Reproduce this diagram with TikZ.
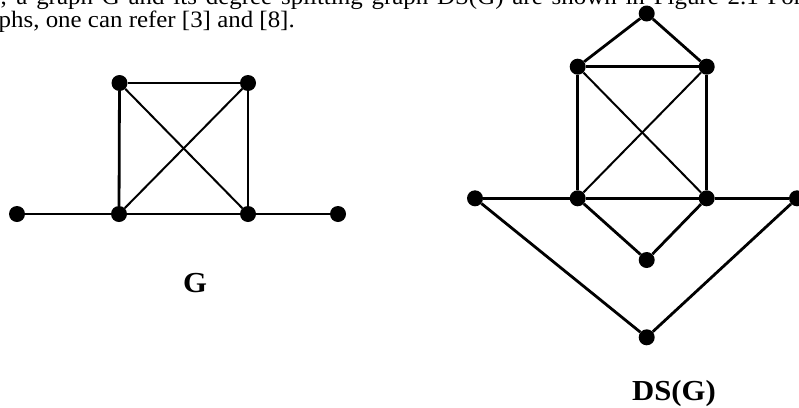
\documentclass[tikz,border=0pt]{standalone}
\usepackage{fontspec}
\setmainfont{Liberation Serif}[FakeStretch=1.06]
\begin{document}
\begin{tikzpicture}[x=1pt,y=-1pt,
 vtx/.style={circle,fill=black,inner sep=0pt,minimum size=16pt},
 edge/.style={line width=2.8pt},
 thinedge/.style={line width=2pt},
 body/.style={inner sep=0pt,anchor=base west,font=\fontsize{23.5}{24}\selectfont},
 lab/.style={inner sep=0pt,anchor=base,font=\fontsize{29}{31}\selectfont\bfseries}]
\useasboundingbox (0,0) rectangle (799,407);
\clip (0,0) rectangle (799,407);
% text
\node[body] (t1) at (-12,4.5) {\hbox to 814pt{g, a graph G and its degree splitting graph DS(G) are shown in Figure 2.1 For}};
\node[body] (t2) at (-1.5,27) {phs, one can refer [3] and [8].};
% graph G
\node[vtx] (gTL) at (119.5,83) {};
\node[vtx] (gTR) at (248,83) {};
\node[vtx] (gBL) at (119,214) {};
\node[vtx] (gBR) at (248,214) {};
\node[vtx] (gL) at (17,214) {};
\node[vtx] (gR) at (338,214) {};
\draw[edge] (gL) -- (gBL) -- (gBR) -- (gR);
\draw[edge] (gTL) -- (gTR);
\draw[edge] (gTL) -- (gBL);
\draw[edge] (gTR) -- (gBR);
\draw[thinedge] (gTL) -- (gBR);
\draw[thinedge] (gTR) -- (gBL);
\node[lab] (labG) at (195,292.5) {G};
% graph DS(G)
\node[vtx] (dTop) at (646.7,13.5) {};
\node[vtx] (dTL) at (577.7,66.7) {};
\node[vtx] (dTR) at (706.7,66.7) {};
\node[vtx] (dBL) at (577.7,198.3) {};
\node[vtx] (dBR) at (706.7,198.3) {};
\node[vtx] (dL) at (475,198.3) {};
\node[vtx] (dR) at (797,198.3) {};
\node[vtx] (dM) at (646.7,260) {};
\node[vtx] (dB) at (646.7,337.3) {};
\draw[edge] (dTop) -- (dTL);
\draw[edge] (dTop) -- (dTR);
\draw[edge] (dTL) -- (dTR);
\draw[edge] (dTL) -- (dBL);
\draw[edge] (dTR) -- (dBR);
\draw[thinedge] (dTL) -- (dBR);
\draw[thinedge] (dTR) -- (dBL);
\draw[edge] (dL) -- (dBL);
\draw[edge] (dBL) -- (dBR);
\draw[edge] (dBR) -- (dR);
\draw[edge] (dBL) -- (dM);
\draw[edge] (dBR) -- (dM);
\draw[edge] (dL) -- (dB);
\draw[edge] (dR) -- (dB);
\node[lab] (labDS) at (674,400) {DS(G)};
\end{tikzpicture}
\end{document}
